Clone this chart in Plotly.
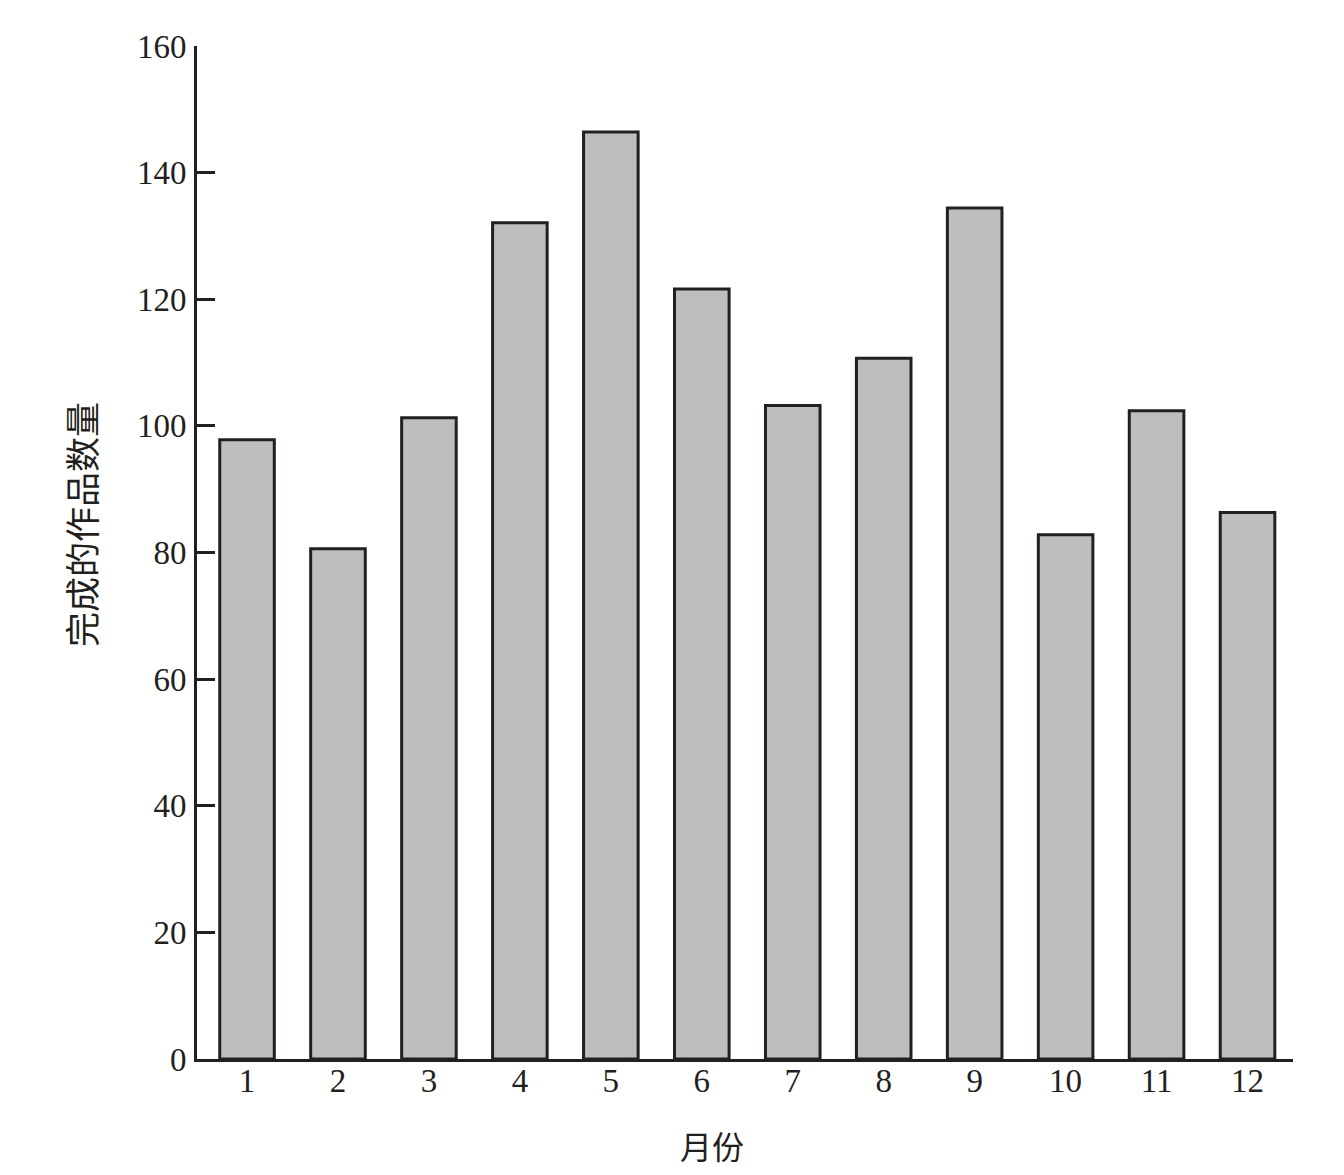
import plotly.graph_objects as go

months = [1, 2, 3, 4, 5, 6, 7, 8, 9, 10, 11, 12]
month_labels = [str(m) for m in months]
counts = [97.8, 80.6, 101.3, 132.1, 146.4, 121.6, 103.2, 110.7, 134.4, 82.8, 102.4, 86.3]
y_ticks = [0, 20, 40, 60, 80, 100, 120, 140, 160]
x_title = "月份"
y_title = "完成的作品数量"

font_family = "Liberation Serif, Times New Roman, Noto Sans CJK SC, serif"
cjk_family = "Noto Sans CJK SC"

fig = go.Figure()
fig.add_trace(go.Bar(
    x=months, y=counts, width=0.6,
    marker=dict(color="#bebebe", line=dict(color="#231f20", width=3)),
))

fig.update_layout(
    width=1344, height=1175,
    margin=dict(l=197, r=51, t=46, b=116),
    plot_bgcolor="white", paper_bgcolor="white",
    showlegend=False,
    font=dict(family=font_family, size=33, color="#231f20"),
)
fig.update_xaxes(
    range=[0.45, 12.5], tickmode="array", tickvals=months, ticktext=month_labels,
    showline=True, linecolor="#231f20", linewidth=3, ticks="", ticklen=0, showgrid=False,
    zeroline=False, ticklabelstandoff=-10,
)
fig.update_yaxes(
    range=[0, 160], tickmode="array", tickvals=y_ticks,
    showline=True, linecolor="#231f20", linewidth=3, ticks="inside", ticklen=18,
    tickwidth=3, tickcolor="#231f20", showgrid=False, zeroline=False,
    ticklabelstandoff=1,
)
fig.add_annotation(
    text=y_title, xref="paper", yref="paper", x=-0.1068, y=0.528,
    textangle=-90, showarrow=False, xanchor="center", yanchor="middle",
    font=dict(family=cjk_family, size=35, color="#231f20"),
)
fig.add_annotation(
    text=x_title, xref="paper", yref="paper", x=0.47, y=-0.085,
    showarrow=False, xanchor="center", yanchor="middle",
    font=dict(family=cjk_family, size=32, color="#231f20"),
)

fig.write_html("out.html")
